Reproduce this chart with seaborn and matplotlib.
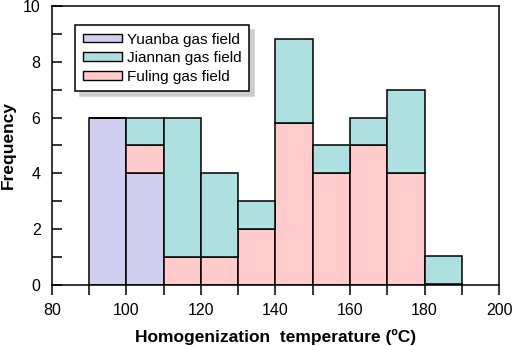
import numpy as np
import pandas as pd
import matplotlib
matplotlib.use("Agg")
import matplotlib.pyplot as plt
from matplotlib.patches import Patch
from matplotlib.ticker import MultipleLocator
import seaborn as sns

# bins of 10 degC, left edges 90..180
bin_left = [90, 100, 110, 120, 130, 140, 150, 160, 170, 180]
yuanba = [6, 4, 0, 0, 0, 0, 0, 0, 0, 0]
fuling = [0, 1, 1, 1, 2, 5.8, 4, 5, 4, 0.05]
jiannan = [0, 1, 5, 3, 1, 3, 1, 1, 3, 1]

fields = ["Yuanba gas field", "Jiannan gas field", "Fuling gas field"]
colors = {"Yuanba gas field": "#D0CFEF",
          "Jiannan gas field": "#AEDFE1",
          "Fuling gas field": "#FFCBCB"}

rows = []
for name, vals in zip(fields, [yuanba, jiannan, fuling]):
    for b, v in zip(bin_left, vals):
        rows.append({"temp": b + 5, "count": v, "field": name})
df = pd.DataFrame(rows)

sns.set_style("ticks")
plt.rcParams["font.family"] = ["Liberation Sans", "DejaVu Sans"]
plt.rcParams["text.color"] = "black"
plt.rcParams["axes.labelcolor"] = "black"
plt.rcParams["xtick.color"] = "black"
plt.rcParams["ytick.color"] = "black"

fig = plt.figure(figsize=(5.12, 3.46), dpi=100)
ax = fig.add_axes([0.101, 0.176, 0.874, 0.807])

sns.histplot(data=df, x="temp", weights="count", hue="field",
             hue_order=["Jiannan gas field", "Fuling gas field", "Yuanba gas field"],
             palette=colors, binwidth=10, binrange=(90, 190), multiple="stack",
             alpha=1, edgecolor="black", linewidth=1.1, legend=False, ax=ax)

ax.set_xlim(80, 200)
ax.set_ylim(0, 10)
ax.xaxis.set_major_locator(MultipleLocator(20))
ax.xaxis.set_minor_locator(MultipleLocator(10))
ax.yaxis.set_major_locator(MultipleLocator(2))
ax.yaxis.set_minor_locator(MultipleLocator(1))
ax.tick_params(axis="x", which="both", direction="out", length=7, width=1.1,
               labelsize=11.5, labelcolor="black", pad=6)
ax.tick_params(axis="y", which="both", direction="in", length=7, width=1.1,
               labelsize=11.5, labelcolor="black", pad=8)
for s in ax.spines.values():
    s.set_visible(True)
    s.set_linewidth(1.1)
    s.set_color("black")

ax.set_xlabel("Homogenization  temperature (\u00baC)", fontsize=12.5,
              fontweight="bold", labelpad=8)
ax.set_ylabel("Frequency", fontsize=12.5, fontweight="bold", labelpad=5)

handles = [Patch(facecolor=colors[f], edgecolor="black", linewidth=1.0, label=f)
           for f in fields]
leg = ax.legend(handles=handles, loc="upper left", bbox_to_anchor=(0.052, 0.932),
                borderaxespad=0, fontsize=11, frameon=True, fancybox=False,
                shadow={"ox": 3.5, "oy": -3.5, "color": "0.8", "alpha": 1},
                handlelength=2.6, handleheight=0.5, handletextpad=0.3,
                labelspacing=0.3, borderpad=0.5)
leg.get_frame().set_edgecolor("black")
leg.get_frame().set_linewidth(1.1)

fig.savefig("out.png", dpi=100)
